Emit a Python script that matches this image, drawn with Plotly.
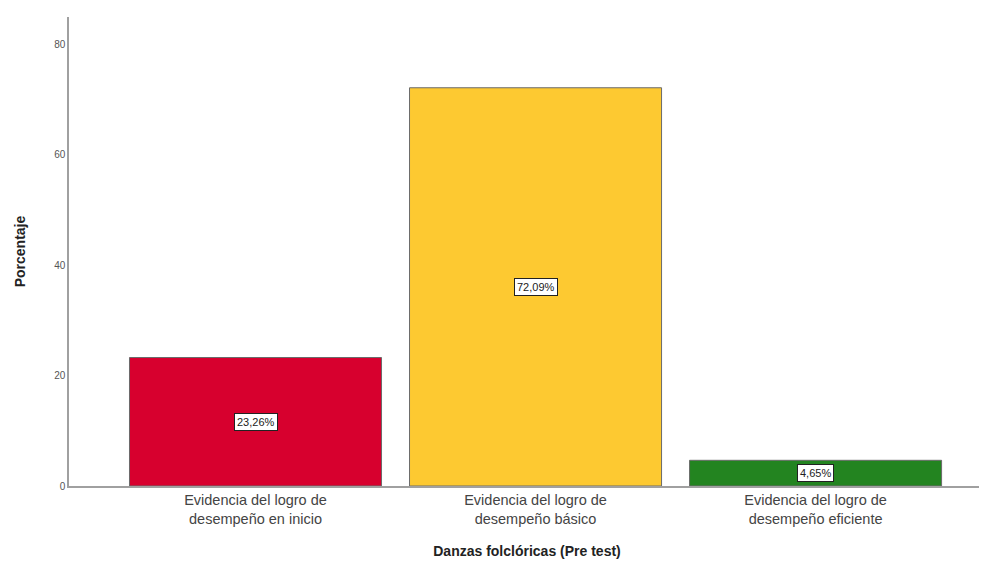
import plotly.graph_objects as go

categories = ["Evidencia del logro de<br>desempeño en inicio",
              "Evidencia del logro de<br>desempeño básico",
              "Evidencia del logro de<br>desempeño eficiente"]
values = [23.26, 72.09, 4.65]
labels = ["23,26%", "72,09%", "4,65%"]
colors = ["#D7002E", "#FDC931", "#238420"]
y_ticks = [0, 20, 40, 60, 80]

fig = go.Figure()
fig.add_trace(go.Bar(
    x=[0, 1, 2], y=values,
    marker=dict(color=colors, line=dict(color="#6b6b6b", width=1)),
    width=0.9, hoverinfo="skip",
))

for i, (v, lab) in enumerate(zip(values, labels)):
    fig.add_annotation(x=i, y=v / 2, text=lab, showarrow=False,
                       font=dict(family="Liberation Sans", size=11, color="#222"),
                       bgcolor="white", bordercolor="#222", borderwidth=1, borderpad=2)

fig.update_layout(
    width=979, height=559,
    margin=dict(l=61, r=2, t=9, b=81),
    paper_bgcolor="white", plot_bgcolor="white",
    showlegend=False,
    font=dict(family="Liberation Sans"),
)
fig.update_xaxes(
    range=[-0.666, 2.605],
    tickvals=[0, 1, 2], ticktext=categories,
    tickfont=dict(size=14.5, color="#444"),
    showline=True, linecolor="#a0a0a0", linewidth=1.5,
    showgrid=False, zeroline=False, ticks="",
    title=dict(text="<b>Danzas folclóricas (Pre test)</b>", font=dict(size=14, color="#222"), standoff=20),
)
fig.update_yaxes(
    range=[0, 84.9],
    tickvals=y_ticks,
    tickfont=dict(size=10, color="#555"),
    showline=True, linecolor="#a0a0a0", linewidth=1.5,
    showgrid=False, zeroline=False, ticks="", ticklen=0,
    title=dict(text="<b>Porcentaje</b>", font=dict(size=14, color="#222"), standoff=25),
)

fig.write_html("out.html")
